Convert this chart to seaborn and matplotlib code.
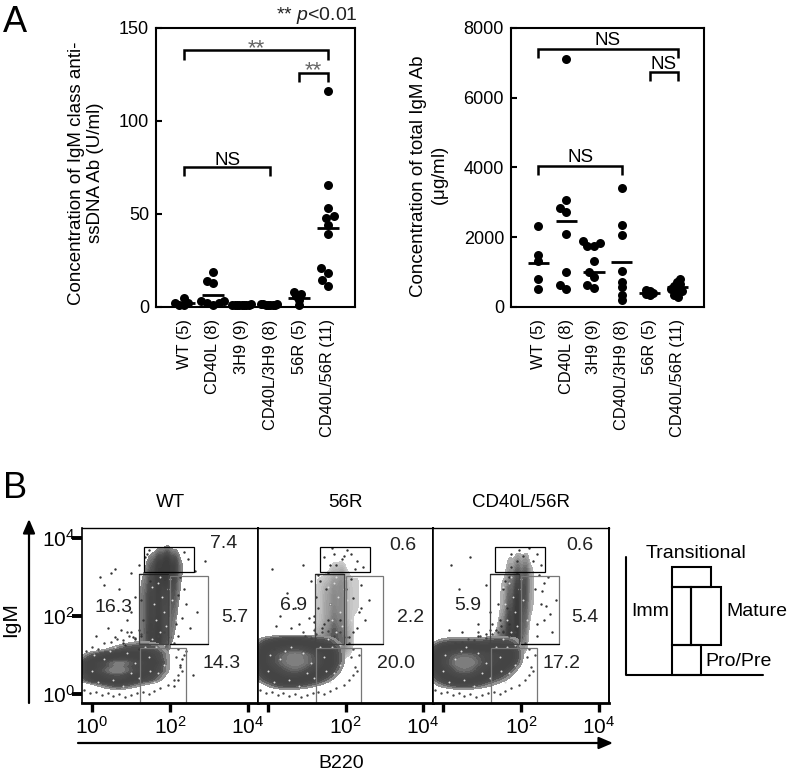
"""
Panel A: anti-ssDNA and total IgM dot plots. Panel B: B220/IgM flow panels with gates.
"""
import numpy as np
import pandas as pd
import matplotlib
matplotlib.use('Agg')
import matplotlib.pyplot as plt
from matplotlib.patches import Rectangle
import seaborn as sns

W, H = 789, 776

groups = ['WT (5)', 'CD40L (8)', '3H9 (9)', 'CD40L/3H9 (8)', '56R (5)', 'CD40L/56R (11)']

# anti-ssDNA IgM, U/ml
ssdna_wt = [5, 2, 2, 1, 1]
ssdna_cd40l = [19, 14, 13, 3, 3, 2, 2, 1]
ssdna_3h9 = [1.5, 1.2, 1.2, 1, 1, 1, 1, 1, 1]
ssdna_cd40l3h9 = [1.6, 1.5, 1.4, 1.3, 1.2, 1.2, 1.1, 1.1]
ssdna_56r = [8, 7, 6, 4, 1]
ssdna_cd40l56r = [116, 65.5, 53, 49, 48, 44, 39, 21, 18.5, 14.5, 11.5]
ssdna_means = [2, 6.6, 1, 1.3, 5, 42.5]

# total IgM, ug/ml
total_wt = [2310, 1500, 1330, 790, 520]
total_cd40l = [7100, 3080, 2830, 2730, 2100, 1000, 640, 520]
total_3h9 = [1900, 1840, 1760, 1740, 1330, 1000, 860, 620, 540]
total_cd40l3h9 = [3400, 2360, 2070, 1020, 710, 570, 350, 210]
total_56r = [500, 460, 400, 380, 340]
total_cd40l56r = [800, 720, 650, 600, 560, 520, 480, 450, 400, 350, 280]
total_means = [1257, 2476, 1000, 1286, 410, 560]

# brackets: first group, last group, level, tip level, label, label level
ssdna_brackets = [(0, 5, 138, 133, '**', 139), (4, 5, 126, 121, '**', 127), (0, 3, 75, 70.5, 'NS', 79)]
total_brackets = [(0, 5, 7400, 7140, 'NS', 7640), (4, 5, 6740, 6480, 'NS', 6950), (0, 3, 4040, 3780, 'NS', 4290)]

# flow panels, log10 units
flow_titles = ['WT', '56R', 'CD40L/56R']
flow_ticks = [0, 2, 4]

# read-off density of the negative population, rows top to bottom
band_cols = [-0.2, 0.1, 0.4, 0.7, 1.0, 1.3, 1.6, 1.9]
band_rows = [1.4, 1.2, 1.0, 0.8, 0.6, 0.4, 0.2]
wt_band = [
    [0, 0, 0, 0, 1, 1, 1, 0],
    [0, 0, 1, 2, 3, 3, 3, 1],
    [2, 3, 4, 5, 5, 5, 4, 2],
    [4, 6, 7, 9, 7, 6, 5, 2],
    [4, 6, 8, 9, 7, 6, 4, 2],
    [3, 5, 6, 7, 5, 4, 3, 1],
    [0, 1, 2, 3, 2, 1, 1, 0],
]
r56_band = [
    [3, 4, 5, 5, 5, 4, 4, 1],
    [5, 7, 7, 8, 7, 6, 5, 3],
    [6, 8, 9, 10, 9, 8, 6, 3],
    [6, 8, 9, 10, 9, 8, 6, 3],
    [5, 7, 8, 9, 8, 7, 5, 2],
    [4, 5, 7, 7, 6, 5, 3, 1],
    [1, 3, 4, 4, 3, 2, 1, 0],
]
dbl_band = [
    [2, 3, 3, 3, 3, 4, 4, 3],
    [5, 6, 7, 7, 6, 6, 6, 4],
    [7, 9, 10, 10, 9, 8, 8, 5],
    [7, 9, 11, 11, 9, 8, 7, 4],
    [6, 8, 10, 10, 8, 7, 5, 2],
    [4, 6, 8, 8, 6, 4, 3, 1],
    [2, 3, 4, 4, 3, 2, 1, 0],
]

# read-off density of the IgM+ column
stalk_cols = [1.3, 1.5, 1.7, 1.9, 2.1, 2.3]
stalk_rows = [3.5, 3.3, 3.0, 2.7, 2.4, 2.1, 1.8, 1.5, 1.2]
wt_stalk = [
    [0, 1, 2, 3, 1, 0],
    [1, 3, 7, 9, 7, 2],
    [1, 3, 5, 6, 4, 1],
    [2, 4, 5, 4, 3, 1],
    [2, 5, 5, 4, 3, 1],
    [2, 4, 5, 4, 2, 0],
    [2, 5, 5, 3, 2, 0],
    [2, 5, 6, 4, 1, 0],
    [2, 5, 6, 3, 1, 0],
]
r56_stalk = [
    [0, 0, 0, 0, 0, 0],
    [0, 0, 1, 1, 0, 0],
    [1, 1, 2, 3, 1, 1],
    [1, 2, 3, 3, 1, 1],
    [1, 2, 3, 3, 1, 1],
    [1, 2, 3, 3, 1, 1],
    [1, 2, 4, 3, 1, 0],
    [2, 3, 5, 4, 2, 0],
    [3, 4, 6, 5, 2, 0],
]
dbl_stalk = [
    [0, 0, 1, 1, 1, 0],
    [0, 0, 1, 2, 2, 1],
    [0, 1, 2, 4, 4, 1],
    [0, 1, 3, 5, 4, 1],
    [0, 1, 3, 6, 4, 1],
    [0, 1, 4, 6, 3, 1],
    [0, 2, 5, 6, 3, 0],
    [1, 3, 6, 6, 2, 0],
    [2, 4, 6, 5, 2, 0],
]
flow_bands = [wt_band, r56_band, dbl_band]
flow_stalks = [wt_stalk, r56_stalk, dbl_stalk]
stalk_shades = [['#8c8c8c', '#505050', '#404040', '#3a3a3a'],
                ['#cfcfcf', '#a0a0a0', '#7a7a7a', '#505050'],
                ['#b4b4b4', '#6e6e6e', '#484848', '#3a3a3a']]

# stray events around the populations
wt_stray_x = [0.2, 0.5, 0.7, 1.0, 1.1, 0.9, 0.4, 0.6, 1.25, 1.3, 1.1, 1.2, 0.8, 1.0, 2.3, 2.6, 2.9, 2.4, 2.5, 2.7, 2.2, 1.4, 1.0, 0.3, 0.1, 0.6, 2.4, 2.2, 1.35, 1.45, 1.5, 2.25, 2.35, 2.45, 2.2, 2.3, 1.2, 1.05, 0.85, 0.75, 2.1, 2.25, 1.25, 2.35, 2.15, 2.65]
wt_stray_y = [3.0, 3.1, 2.7, 3.1, 2.5, 1.9, 1.7, 1.45, 1.5, 1.9, 1.4, 3.3, 1.3, 1.6, 0.9, 0.5, 3.4, 2.3, 1.7, 2.1, 0.35, 3.6, 2.1, 2.8, 1.5, 3.2, 1.1, 1.5, 3.5, 3.7, 2.9, 3.0, 2.7, 3.45, 2.55, 1.95, 1.15, 1.45, 1.25, 1.65, 0.2, 0.75, 2.4, 3.65, 1.8, 3.15]
r56_stray_x = [0.1, 0.5, 0.9, 1.1, 0.7, 1.2, 1.45, 1.6, 1.7, 2.3, 2.4, 2.6, 2.5, 2.15, 2.0, 1.5, 1.3, 1.35, 1.45, 1.6, 1.55, 1.75, 2.2, 2.35, 0.8, 0.3, 1.4, 1.55, 1.2, 1.9, 2.05, 2.25, 2.45, 1.25, 1.65, 2.1, 2.3, 1.85, 1.95, 2.2, 0.6, 1.05, 0.2, 2.15, 2.4, 1.3]
r56_stray_y = [3.2, 2.6, 3.3, 2.9, 2.2, 2.0, 3.5, 3.3, 3.6, 3.4, 2.8, 2.4, 1.9, 3.6, 2.7, 2.7, 2.2, 2.9, 1.8, 2.3, 3.1, 3.3, 1.6, 2.1, 1.8, 2.0, 1.7, 1.9, 1.85, 3.45, 3.7, 3.2, 3.25, 2.5, 3.75, 1.45, 1.7, 1.9, 3.55, 2.45, 1.7, 1.95, 1.75, 2.95, 2.2, 3.05]
dbl_stray_x = [0.2, 0.7, 1.1, 1.2, 0.4, 0.9, 1.4, 1.55, 1.7, 1.8, 1.9, 1.7, 2.4, 2.5, 2.7, 2.9, 2.6, 2.4, 1.55, 1.45, 1.75, 0.5, 0.9, 2.8, 2.5, 2.35, 1.85, 1.65, 1.6, 1.75, 2.45, 2.55, 2.65, 1.95, 2.05, 2.4, 2.3, 1.5, 1.35, 1.1, 1.25, 2.6, 2.2, 2.75, 0.15, 1.9]
dbl_stray_y = [3.3, 3.5, 2.8, 2.1, 2.7, 1.8, 2.3, 2.7, 3.0, 2.5, 3.4, 1.8, 3.6, 3.3, 3.0, 2.4, 1.9, 1.5, 1.6, 1.9, 3.6, 1.6, 1.5, 1.6, 2.3, 2.7, 2.1, 2.2, 2.9, 3.25, 3.05, 2.65, 2.25, 3.7, 3.55, 1.8, 3.4, 1.75, 1.65, 1.55, 1.8, 2.85, 3.75, 2.05, 1.65, 3.1]
flow_strays = [(wt_stray_x, wt_stray_y), (r56_stray_x, r56_stray_y), (dbl_stray_x, dbl_stray_y)]

# events along the rim of the negative population
rim_x = [-0.2, -0.05, 0.1, 0.25, 0.4, 0.55, 0.7, 0.85, 1.0, 1.15, 1.3, 1.45, 1.6, 1.75, 1.95, 2.1, 2.2, 2.25, 2.15, 2.3,
         -0.15, 0.0, 0.15, 0.3, 0.5, 0.65, 0.8, 0.95, 1.1, 1.25, 1.4, 1.55, 1.7, 1.85, 2.0, 2.1, 2.2, 2.35, 1.2, 0.9]
rim_y = [0.1, 0.02, 0.05, -0.02, 0.03, -0.05, 0.0, -0.08, -0.02, 0.02, 0.06, 0.0, 0.08, 0.15, 0.22, 0.35, 0.5, 0.7, 0.95, 0.6,
         1.1, 1.2, 1.16, 1.3, 1.34, 1.42, 1.38, 1.5, 1.44, 1.55, 1.58, 1.62, 1.5, 1.6, 1.45, 1.3, 1.15, 1.0, 1.65, 1.6]

# bright pixels inside the dense regions
speck_x = [0.0, 0.3, 0.55, 0.9, 1.2, 1.45, 1.7, 0.15, 0.45, 0.8, 1.1, 1.35, 1.6, 1.85, 0.05, 0.6, 1.0, 1.5,
           1.55, 1.75, 1.65, 1.85, 1.6, 1.8, 1.95, 1.7, 2.05, 1.55, 1.9, 1.75, 2.15, 1.65, 1.85, 2.0]
speck_y = [0.6, 0.9, 0.35, 1.05, 0.4, 0.95, 0.55, 0.3, 1.1, 0.2, 0.8, 1.2, 0.3, 0.75, 1.0, 1.2, 0.55, 0.6,
           1.4, 1.6, 1.9, 2.1, 2.3, 2.5, 2.7, 2.85, 2.4, 2.75, 1.75, 3.0, 1.9, 1.2, 1.25, 2.95]

# gates, log10 units: x0, x1, y0, y1
gate_trans = (1.33, 2.62, 3.13, 3.77)
gate_imm = (1.205, 1.95, 1.28, 3.08)
gate_mature = (2.0, 2.97, 1.28, 3.03)
gate_pro = (1.23, 2.41, -0.23, 1.18)

gate_labels_wt = [('7.4', 3.38, 3.85), ('16.3', 0.54, 2.23), ('5.7', 3.67, 1.97), ('14.3', 3.31, 0.77)]
gate_labels_56r = [('0.6', 3.49, 3.8), ('6.9', 0.67, 2.28), ('2.2', 3.67, 1.97), ('20.0', 3.31, 0.77)]
gate_labels_dbl = [('0.6', 3.51, 3.8), ('5.9', 0.64, 2.28), ('5.4', 3.64, 1.97), ('17.2', 3.05, 0.79)]
flow_labels = [gate_labels_wt, gate_labels_56r, gate_labels_dbl]


def px_axes(fig, left, top, right, bottom):
    return fig.add_axes([left / W, 1 - bottom / H, (right - left) / W, (bottom - top) / H])


def dot_panel(fig, box, series, means, brackets, ymax, yticks, ylabel, label_xy, swarm_sizes):
    ax = px_axes(fig, *box)
    df = pd.DataFrame({
        'group': np.repeat(groups, [len(s) for s in series]),
        'value': np.concatenate(series),
    })
    sns.swarmplot(data=df, x='group', y='value', order=groups, color='black', size=3, ax=ax)
    ax.set_xlim(-0.98, 5.95)
    ax.set_ylim(0, ymax)
    # tight swarm first, the visible dots are larger and overlap as in the figure
    for c, sz in zip(ax.collections, swarm_sizes):
        c.set_sizes([sz ** 2])
    fig.canvas.draw()
    for c in ax.collections:
        xy = np.array(c.get_offsets())
        c.__dict__.pop('draw', None)
        c.set_offsets(xy)
        c.set_sizes([42])
        c.set_clip_on(False)
    ax.hlines(means, np.arange(6) - 0.38, np.arange(6) + 0.38, color='black', lw=2)
    for g0, g1, level, tip, label, label_y in brackets:
        ax.plot([g0, g0, g1, g1], [tip, level, level, tip], color='black', lw=1.8,
                solid_joinstyle='miter', solid_capstyle='butt')
        is_stars = label == '**'
        ax.text((g0 + g1) / 2, label_y, label, ha='center', va='center',
                color='#666666' if is_stars else 'black', fontsize=16 if is_stars else 13.5)
    ax.set_yticks(yticks)
    ax.tick_params(axis='y', direction='in', length=4, width=1.5, labelsize=13, pad=5)
    ax.tick_params(axis='x', length=0, labelrotation=90, labelsize=11.8, pad=9)
    ax.set_xlabel('')
    ax.set_ylabel(ylabel, fontsize=13.5, linespacing=1.2)
    ax.yaxis.set_label_coords(*label_xy)
    for s in ax.spines.values():
        s.set_visible(True)
        s.set_linewidth(1.5)
        s.set_color('black')
    return ax


def density_layer(ax, cols, rows, weights, shades, bw, thresh):
    # one kernel per read-off cell
    xs, ys = np.meshgrid(cols, rows)
    w = np.array(weights, dtype=float)
    keep = w > 0
    sns.kdeplot(x=xs[keep], y=ys[keep], weights=w[keep], fill=True, bw_adjust=bw,
                levels=18, thresh=thresh, cmap=sns.blend_palette(shades, as_cmap=True), ax=ax)


def flow_panel(fig, box, band, stalk, shades, stray, labels, title, first):
    ax = px_axes(fig, *box)
    density_layer(ax, stalk_cols, stalk_rows, stalk, shades, 0.62, 0.1)
    density_layer(ax, band_cols, band_rows, band,
                  ['#a8a8a8', '#4e4e4e', '#444444', '#444444', '#4c4c4c', '#868686'], 0.62, 0.1)
    sns.scatterplot(x=rim_x, y=rim_y, s=3, color='#444444', linewidth=0, ax=ax)
    sns.scatterplot(x=stray[0], y=stray[1], s=3, color='#333333', linewidth=0, ax=ax)
    sns.scatterplot(x=speck_x, y=speck_y, s=2, color='#dddddd', linewidth=0, ax=ax)
    for gate, edge in [(gate_trans, 'black'), (gate_imm, '#444444'), (gate_mature, '#777777'), (gate_pro, '#777777')]:
        ax.add_patch(Rectangle((gate[0], gate[2]), gate[1] - gate[0], gate[3] - gate[2],
                               fill=False, ec=edge, lw=0.9))
    ax.plot([gate_mature[0], gate_mature[1]], [gate_mature[2]] * 2, color='black', lw=0.9)
    ax.plot([gate_imm[0], gate_imm[1]], [gate_imm[3]] * 2, color='#222222', lw=0.9)
    for text, x, y in labels:
        ax.text(x, y, text, ha='center', va='center', fontsize=14, color='#222222')
    ax.set_xlim(-0.256, 4.256)
    ax.set_ylim(-0.23, 4.256)
    tick_text = [rf'$\mathregular{{10^{{{t}}}}}$' for t in flow_ticks]
    ax.set_xticks(flow_ticks)
    # only the first panel labels its 10^0
    ax.set_xticklabels(tick_text if first else [''] + tick_text[1:])
    ax.set_yticks(flow_ticks)
    ax.set_yticklabels(tick_text)
    ax.tick_params(axis='x', direction='out', length=6.5, width=2.4, labelsize=15, pad=3)
    ax.tick_params(axis='y', direction='out', length=7, width=2.8, labelsize=15, pad=-2,
                   left=first, labelleft=first)
    ax.set_xlabel('')
    ax.set_ylabel('')
    ax.set_title(title, fontsize=13.5, pad=15)
    for name, s in ax.spines.items():
        s.set_visible(True)
        s.set_color('black')
        s.set_linewidth({'bottom': 2, 'top': 1, 'left': 1.2, 'right': 1.4}[name])
    return ax


def overlay(fig):
    ov = fig.add_axes([0, 0, 1, 1], zorder=5)
    ov.set_xlim(0, W)
    ov.set_ylim(H, 0)
    ov.axis('off')
    ov.patch.set_alpha(0)
    ov.text(15, 22, 'A', fontsize=26, ha='center', va='center')
    ov.text(15, 488, 'B', fontsize=26, ha='center', va='center')
    ov.text(317, 15, r'** $\mathit{p}$<0.01', fontsize=14, ha='center', va='center', color='#222222')
    # axis arrows
    ov.annotate('', xy=(29, 519), xytext=(29, 703),
                arrowprops=dict(arrowstyle='-|>,head_width=0.3,head_length=0.7', lw=1.6, color='black',
                                shrinkA=0, shrinkB=0))
    ov.annotate('', xy=(613, 743), xytext=(78, 743),
                arrowprops=dict(arrowstyle='-|>,head_width=0.3,head_length=0.7', lw=1.6, color='black',
                                shrinkA=0, shrinkB=0))
    ov.text(11, 620, 'IgM', rotation=90, fontsize=15, ha='center', va='center')
    ov.text(341, 763, 'B220', fontsize=14, ha='center', va='center')
    # gate key
    ov.plot([626, 626, 763], [557, 675, 675], color='black', lw=1.5)
    for x0, x1, y0, y1 in [(672, 711, 567, 587), (672, 691, 587, 645), (691, 721, 587, 645), (672, 701, 645, 675)]:
        ov.add_patch(Rectangle((x0, y0), x1 - x0, y1 - y0, fill=False, ec='black', lw=1.5))
    ov.text(696, 553, 'Transitional', fontsize=14, ha='center', va='center')
    ov.text(650, 612, 'Imm', fontsize=14, ha='center', va='center')
    ov.text(757, 612, 'Mature', fontsize=14, ha='center', va='center')
    ov.text(739, 661, 'Pro/Pre', fontsize=14, ha='center', va='center')


def main():
    sns.set_theme(style='ticks')
    plt.rcParams['font.family'] = ['Liberation Sans', 'DejaVu Sans']
    plt.rcParams['mathtext.fontset'] = 'custom'
    plt.rcParams['mathtext.rm'] = 'Liberation Sans'
    plt.rcParams['mathtext.it'] = 'Liberation Sans:italic'
    plt.rcParams['mathtext.bf'] = 'Liberation Sans:bold'
    plt.rcParams['text.color'] = 'black'
    plt.rcParams['axes.labelcolor'] = 'black'
    plt.rcParams['xtick.color'] = 'black'
    plt.rcParams['ytick.color'] = 'black'

    fig = plt.figure(figsize=(W / 100, H / 100), dpi=100)

    dot_panel(fig, (156, 28, 355, 307),
              [ssdna_wt, ssdna_cd40l, ssdna_3h9, ssdna_cd40l3h9, ssdna_56r, ssdna_cd40l56r],
              ssdna_means, ssdna_brackets, 150, [0, 50, 100, 150],
              'Concentration of IgM class anti-\nssDNA Ab (U/ml)', (-0.26, 0.48),
              [3.2, 4.2, 1.6, 1.6, 3.2, 5.5])
    dot_panel(fig, (511, 28, 704, 307),
              [total_wt, total_cd40l, total_3h9, total_cd40l3h9, total_56r, total_cd40l56r],
              total_means, total_brackets, 8000, [0, 2000, 4000, 6000, 8000],
              'Concentration of total IgM Ab\n($\\mathregular{\\mu}$g/ml)', (-0.31, 0.47),
              [3.2, 5, 5, 3, 3, 2.8])

    boxes = [(82, 528, 258, 703), (258, 528, 433, 703), (433, 528, 609, 703)]
    for i in range(3):
        flow_panel(fig, boxes[i], flow_bands[i], flow_stalks[i], stalk_shades[i],
                   flow_strays[i], flow_labels[i], flow_titles[i], i == 0)

    overlay(fig)
    fig.savefig('out.png', dpi=100)
    plt.close(fig)


if __name__ == '__main__':
    main()
